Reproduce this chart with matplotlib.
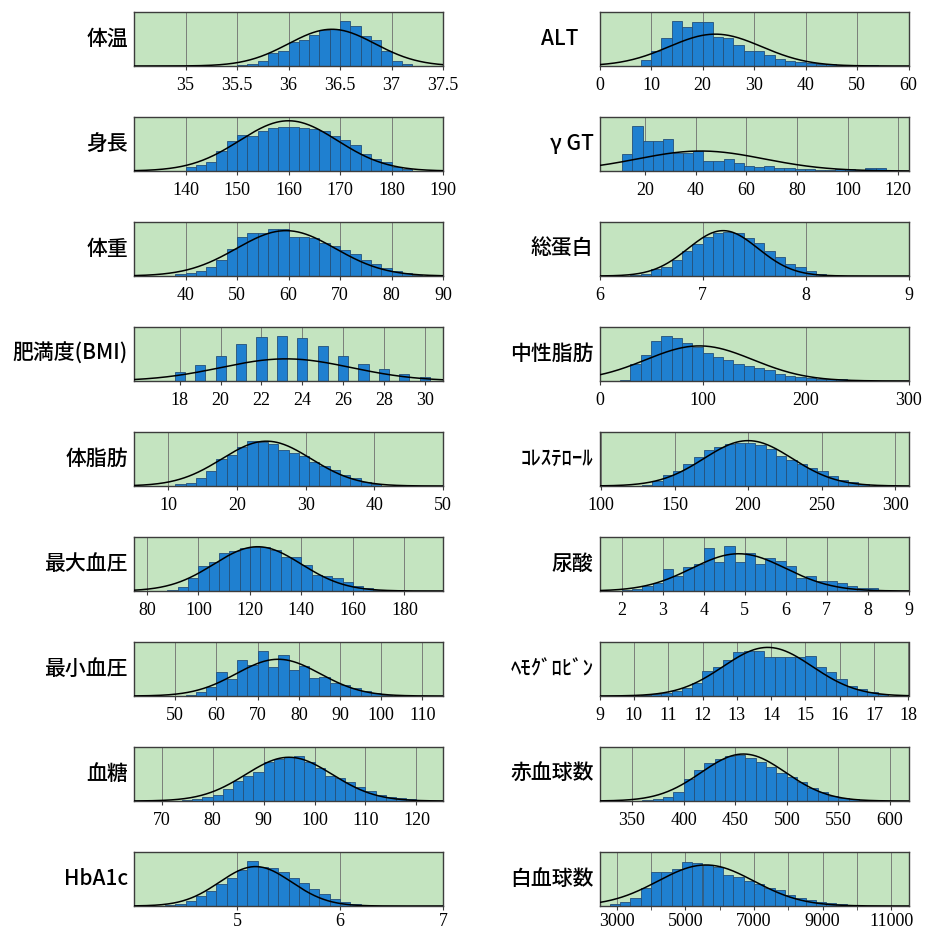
import numpy as np
import matplotlib
matplotlib.use("Agg")
import matplotlib.pyplot as plt
from matplotlib.ticker import FixedLocator

plt.rcParams['font.family'] = ['Noto Sans CJK JP', 'DejaVu Sans']

# Measurement names: left column top to bottom, then right column
names = ["体温", "身長", "体重", "肥満度(BMI)", "体脂肪", "最大血圧", "最小血圧", "血糖", "HbA1c",
         "ALT", "γ GT", "総蛋白", "中性脂肪", "ｺﾚｽﾃﾛｰﾙ", "尿酸", "ﾍﾓｸﾞﾛﾋﾞﾝ", "赤血球数", "白血球数"]

# Histogram frequencies (relative scale, 0-100)
freq_taion = [2, 4, 10, 25, 28, 45, 48, 57, 66, 68, 84, 74, 55, 48, 27, 10, 4]
freq_shincho = [7, 12, 17, 37, 55, 67, 64, 75, 79, 82, 82, 80, 77, 74, 64, 58, 49, 31, 23, 16, 7, 3]
freq_taiju = [3, 6, 10, 17, 30, 50, 73, 80, 80, 87, 87, 72, 72, 70, 62, 55, 48, 40, 30, 22, 15, 9, 5, 2]
freq_bmi = [17, 30, 47, 68, 81, 84, 79, 65, 47, 32, 22, 13, 7]
freq_taishibo = [3, 6, 14, 27, 50, 58, 73, 83, 82, 78, 67, 61, 56, 44, 37, 29, 20, 14, 8, 4]
freq_sbp = [2, 8, 24, 46, 54, 71, 75, 79, 81, 81, 76, 63, 63, 49, 29, 27, 24, 17, 10, 5, 2]
freq_dbp = [2, 8, 17, 44, 32, 67, 58, 84, 53, 76, 49, 56, 33, 36, 25, 20, 15, 9, 5, 2]
freq_kettou = [2, 4, 7, 12, 22, 37, 46, 53, 72, 77, 82, 84, 72, 62, 47, 42, 36, 26, 19, 12, 8, 5, 3]
freq_hba1c = [2, 4, 9, 18, 28, 40, 52, 66, 84, 73, 70, 63, 52, 42, 32, 22, 13, 7, 3, 1]
freq_alt = [11, 28, 51, 84, 73, 81, 81, 54, 51, 38, 28, 27, 21, 13, 10, 7, 5, 4, 3, 2, 2, 1, 1]
freq_ggt = [31, 84, 55, 55, 60, 33, 33, 37, 18, 18, 22, 15, 10, 8, 10, 6, 5, 4, 3, 2, 2, 3, 3, 2, 5, 5]
freq_tp = [1, 4, 13, 17, 30, 47, 60, 73, 79, 82, 80, 70, 61, 46, 35, 23, 16, 9, 4, 1]
freq_tg = [2, 32, 49, 74, 84, 80, 70, 63, 52, 44, 39, 32, 27, 24, 20, 13, 10, 8, 6, 4, 3, 3, 2]
freq_chol = [2, 10, 20, 28, 40, 54, 66, 72, 78, 80, 80, 76, 69, 56, 48, 40, 34, 28, 18, 11, 7, 3]
freq_ua = [2, 4, 9, 14, 41, 28, 44, 50, 79, 53, 83, 54, 71, 50, 61, 56, 47, 25, 28, 19, 19, 14, 9, 6, 5, 2]
freq_hb = [2, 4, 6, 10, 14, 24, 46, 54, 66, 81, 84, 83, 73, 73, 73, 72, 74, 54, 44, 32, 19, 13, 8, 3]
freq_rbc = [2, 4, 8, 16, 41, 57, 70, 77, 84, 85, 79, 73, 63, 51, 44, 35, 25, 16, 9, 5, 3, 1]
freq_wbc = [3, 8, 14, 33, 63, 63, 69, 82, 79, 76, 72, 57, 53, 47, 40, 34, 29, 21, 15, 12, 8, 5, 3]

freqs = [freq_taion, freq_shincho, freq_taiju, freq_bmi, freq_taishibo, freq_sbp, freq_dbp,
         freq_kettou, freq_hba1c, freq_alt, freq_ggt, freq_tp, freq_tg, freq_chol, freq_ua,
         freq_hb, freq_rbc, freq_wbc]

# Bin layout: left edge of the first bin and bin width
bin_start = [35.5, 140, 38, 17.5, 11, 88, 52.5, 74, 4.3,
             8, 11, 6.3, 20, 128, 2.0, 10.2, 360, 2800]
bin_width = [0.1, 2, 2, 1, 1.5, 4, 2.5, 2, 0.1,
             2, 4, 0.1, 10, 7, 0.25, 0.3, 10, 300]
# fraction of each bin covered by its bar
bar_fill = [1, 1, 1, 0.5, 1, 1, 1, 1, 1,
            1, 1, 1, 1, 1, 1, 1, 1, 1]

# Fitted normal curve: mean, standard deviation, peak height
fit_mean = [36.42, 160, 59.5, 23.2, 24.3, 123, 75, 95, 5.18,
            22.5, 42, 7.2, 97, 200, 4.85, 13.9, 458, 5600]
fit_sd = [0.42, 9.5, 9.6, 3.2, 6.5, 17, 10.2, 8.5, 0.35,
          9, 25, 0.34, 52, 30, 1.15, 1.3, 41, 1400]
fit_peak = [68, 93, 84, 41, 83, 82, 68, 81, 73,
            59, 37, 84, 65, 84, 69, 90, 87, 76]

# Axis ranges and tick values
x_ranges = [(34.5, 37.5), (130, 190), (30, 90), (15.75, 30.9), (5, 50), (75, 195),
            (40, 115), (64.6, 125.2), (4, 7),
            (0, 60), (2, 124), (6, 9), (0, 300), (99, 309), (1.45, 9), (9, 18),
            (318.5, 618), (2500, 11500)]
tick_values = [[35, 35.5, 36, 36.5, 37, 37.5],
               [140, 150, 160, 170, 180, 190],
               [40, 50, 60, 70, 80, 90],
               [18, 20, 22, 24, 26, 28, 30],
               [10, 20, 30, 40, 50],
               [80, 100, 120, 140, 160, 180],
               [50, 60, 70, 80, 90, 100, 110],
               [70, 80, 90, 100, 110, 120],
               [5, 6, 7],
               [0, 10, 20, 30, 40, 50, 60],
               [20, 40, 60, 80, 100, 120],
               [6, 7, 8, 9],
               [0, 100, 200, 300],
               [100, 150, 200, 250, 300],
               [2, 3, 4, 5, 6, 7, 8, 9],
               [9, 10, 11, 12, 13, 14, 15, 16, 17, 18],
               [350, 400, 450, 500, 550, 600],
               [3000, 5000, 7000, 9000, 11000]]
minor_ticks = {17: [4000, 6000, 8000, 10000]}

BG = '#c4e4c0'
BAR = '#1f80d0'
BAR_EDGE = '#24507a'
FRAME = '#3c3c3c'
GRID = '#6e6e6e'

W, H = 925, 931
fig = plt.figure(figsize=(W / 100, H / 100), dpi=100)
fig.patch.set_facecolor('white')

col_left = [134, 599.5]
ax_w = 309
ax_h = 54
row_top = [12 + 105 * i for i in range(9)]
label_gap = {9: 21}

for k, name in enumerate(names):
    col, row = divmod(k, 9)
    left = col_left[col] / W
    bottom = 1 - (row_top[row] + ax_h) / H
    ax = fig.add_axes([left, bottom, ax_w / W, ax_h / H])
    ax.set_facecolor(BG)

    f = np.asarray(freqs[k], dtype=float)
    bw = bin_width[k]
    centers = bin_start[k] + (np.arange(len(f)) + 0.5) * bw
    ax.bar(centers, f, width=bw * bar_fill[k], align='center', color=BAR,
           edgecolor=BAR_EDGE, linewidth=0.6, zorder=2)

    x0, x1 = x_ranges[k]
    xs = np.linspace(x0, x1, 400)
    ys = fit_peak[k] * np.exp(-0.5 * ((xs - fit_mean[k]) / fit_sd[k]) ** 2)
    ax.plot(xs, ys, color='black', linewidth=1.1, zorder=3)

    ax.set_xlim(x0, x1)
    ax.set_ylim(0, 100)
    ax.set_yticks([])
    ax.xaxis.set_major_locator(FixedLocator(tick_values[k]))
    ax.set_xticklabels(['{:g}'.format(v) for v in tick_values[k]],
                       fontfamily='Liberation Serif', fontsize=13)
    tick_pad = 2 if row == 8 else 5
    if k in minor_ticks:
        ax.xaxis.set_minor_locator(FixedLocator(minor_ticks[k]))
        ax.tick_params(axis='x', which='minor', length=3, color=FRAME)
        ax.grid(True, axis='x', which='minor', color=GRID, linewidth=0.6, zorder=1)
    ax.tick_params(axis='x', which='major', length=3, width=0.8, color=FRAME, pad=tick_pad)
    ax.grid(True, axis='x', which='major', color=GRID, linewidth=0.6, zorder=1)
    ax.set_axisbelow(True)
    for sp in ax.spines.values():
        sp.set_color(FRAME)
        sp.set_linewidth(1.0)

    ax.annotate(name, xy=(0, 0.5), xycoords='axes fraction',
                xytext=(-label_gap.get(k, 6), 0),
                textcoords='offset pixels', ha='right', va='center',
                fontsize=15, fontweight='medium')

fig.savefig('out.png', dpi=100, facecolor='white')
